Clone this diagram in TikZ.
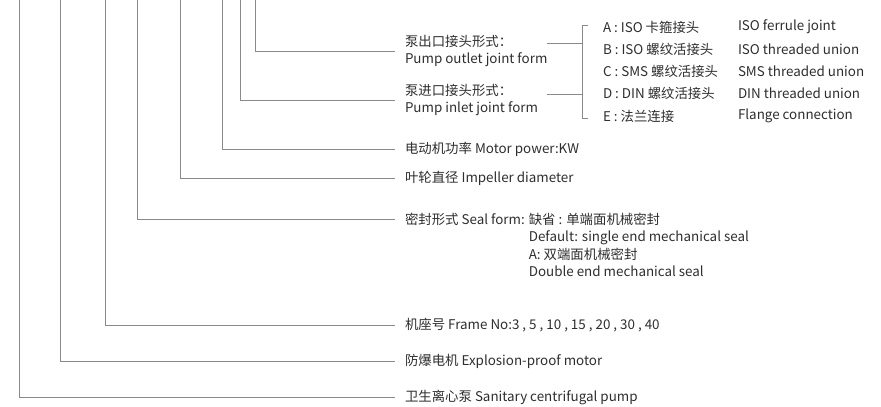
\documentclass[tikz,border=0pt]{standalone}
\usepackage{fontspec}
\setmainfont{Noto Sans CJK SC}
\usetikzlibrary{positioning}
\definecolor{leadgray}{HTML}{8A8A8A}
\definecolor{txtgray}{HTML}{2E2E2E}
\newcommand{\labelfont}{\fontsize{13.4}{17.5}\selectfont}

\begin{document}
\begin{tikzpicture}[x=1pt, y=-1pt,
  lead/.style={draw=leadgray, line width=0.9pt},
  lbl/.style={anchor=west, inner sep=0pt, outer sep=0pt, text=txtgray, align=left, font=\labelfont}]
  \useasboundingbox (0,0) rectangle (881,407);

  % tops of the vertical leads (they run off the top edge)
  \foreach \name/\x in {pump/19, exmot/60, frame/105, seal/137, impel/180, motor/222, inlet/240, outlet/255}
    \coordinate (\name-top) at (\x,-1);

  % labels, bottom to top
  \node[lbl] (pump) at (405,397) {卫生离心泵 Sanitary centrifugal pump};
  \node[lbl] (exmot) at (405,361) {防爆电机 Explosion-proof motor};
  \node[lbl] (frame) at (405,325) {机座号 Frame No:3 , 5 , 10 , 15 , 20 , 30 , 40};
  \node[lbl] (seal) at (405,219) {密封形式 Seal form:};
  \node[lbl, anchor=north west] (sealopt) at ([xshift=4pt]seal.north east)
    {缺省 : 单端面机械密封\\Default: single end mechanical seal\\A: 双端面机械密封\\Double end mechanical seal};
  \node[lbl] (impel) at (405,178) {叶轮直径 Impeller diameter};
  \node[lbl] (motor) at (405,149) {电动机功率 Motor power:KW};
  \node[lbl] (inlet) at (405,100) {泵进口接头形式：\\Pump inlet joint form};
  \node[lbl] (outlet) at (405,51) {泵出口接头形式：\\Pump outlet joint form};

  % leads from the code letters to the labels
  \foreach \name in {pump, exmot, frame, seal, impel, motor, inlet, outlet}
    \draw[lead] (\name-top) |- ([xshift=-10pt]\name.west);

  % joint form options
  \foreach \i/\y/\cn/\en in {A/27/ISO 卡箍接头/ISO ferrule joint,
                             B/49/ISO 螺纹活接头/ISO threaded union,
                             C/71/SMS 螺纹活接头/SMS threaded union,
                             D/93/DIN 螺纹活接头/DIN threaded union,
                             E/116/法兰连接/Flange connection}
  {
    \node[lbl] (opt\i) at (603,\y) {\i{} : \cn};
    \node[lbl] (opt\i-en) at (738,\y) {\en};
  }

  % bracket round the options
  \coordinate (br-top) at (582,25);
  \coordinate (br-bot) at (582,118);
  \draw[lead] ([xshift=6pt]br-top) -- (br-top) -- (br-bot) -- ([xshift=6pt]br-bot);
  \draw[lead] ([yshift=8pt]outlet.east) -- ([yshift=8pt]outlet.east -| br-top);
  \draw[lead] ([yshift=6pt]inlet.east -| outlet.east) -- ([yshift=6pt]inlet.east -| br-top);
\end{tikzpicture}
\end{document}
